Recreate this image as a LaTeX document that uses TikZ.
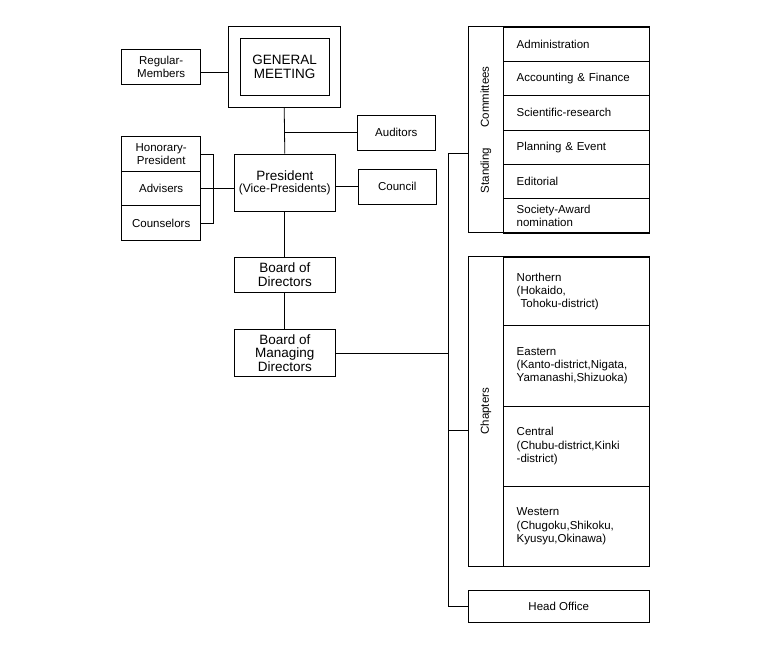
\documentclass[tikz,border=0pt]{standalone}
\usepackage{fontspec}
\setmainfont{Liberation Sans}

\begin{document}
\begin{tikzpicture}[x=1pt, y=-1pt, line width=0.8pt,
  orgbox/.style={draw, rectangle, inner sep=0pt, align=center, font=\fontsize{11.5}{12.5}\selectfont},
  bigbox/.style={orgbox, font=\fontsize{13.5}{13.5}\selectfont},
  rowbox/.style={draw, rectangle, anchor=north west, inner xsep=13pt, inner ysep=0pt, text width=119.7pt, align=left, font=\fontsize{11.5}{13.3}\selectfont},
  sidelabel/.style={rotate=90, font=\fontsize{11.5}{12.5}\selectfont}]
\useasboundingbox (0,0) rectangle (770,650);

% General meeting and members
\node[bigbox, minimum width=111.7, minimum height=81.3] (gmOuter) at (284.2,66.7) {};
\node[bigbox, minimum width=89.3, minimum height=56.7] (gmInner) at (284.7,66.7) {GENERAL\\MEETING};
\node[orgbox, minimum width=79, minimum height=34.7] (regular) at (161.2,66.7) {Regular-\\Members};
\draw ([yshift=-5.6]regular.east) -- ([yshift=-5.6]regular.east -| gmOuter.west);

% President, auditors, council
\node[orgbox, minimum width=101, minimum height=57.3, font=\fontsize{12}{12}\selectfont] (president) at (284.8,182.7) {{\fontsize{13.5}{12}\selectfont President}\\(Vice-Presidents)};
\node[orgbox, minimum width=78, minimum height=34.3] (auditors) at (396.3,132.8) {Auditors};
\node[orgbox, minimum width=78, minimum height=34.7] (council) at (397.3,186.7) {Council};
\draw (gmOuter.south) -- (president.north);
\draw (auditors.west) -- (auditors.west -| gmOuter.south);
\draw (council.west) -- (council.west -| president.east);

% Honorary group on the left
\node[orgbox, minimum width=79, minimum height=35] (honorary) at (161.2,154.2) {Honorary-\\President};
\node[orgbox, minimum width=79, minimum height=34] (advisers) at (161.2,188.7) {Advisers};
\node[orgbox, minimum width=79, minimum height=34.6] (counselors) at (161.2,223) {Counselors};
\draw (honorary.east) -- ++(12,0) |- (counselors.east);
\draw (advisers.east) -- (advisers.east -| president.west);

% Boards
\node[bigbox, minimum width=101, minimum height=35] (directors) at (284.8,274.8) {Board of\\Directors};
\node[bigbox, minimum width=101, minimum height=47.4] (managing) at (284.8,353) {Board of\\Managing\\Directors};
\draw (president.south) -- (directors.north);
\draw (directors.south) -- (managing.north);

% Standing committees
\node[draw, minimum width=180.7, minimum height=206, inner sep=0pt] (standing) at (558.7,129.7) {};
\node[sidelabel] (standingLbl) at (485.8,129.7) {Standing\hspace{20pt}Committees};
\foreach \i/\tp/\rh/\txt in {1/26.7/34.3/Administration, 2/61/34.3/Accounting \& Finance,
    3/95.3/34.3/Scientific-research, 4/129.6/34.3/Planning \& Event,
    5/163.9/34.3/Editorial, 6/198.2/34.5/{Society-Award\\nomination}}
  \node[rowbox, minimum height=\rh] (com\i) at (503.3,\tp) {\txt};

% Chapters
\node[draw, minimum width=180.7, minimum height=309.3, inner sep=0pt] (chapters) at (558.7,411.35) {};
\node[sidelabel] (chaptersLbl) at (485.8,411.3) {Chapters};
\foreach \i/\tp/\rh/\txt in {1/256.7/68.6/{Northern\\(Hokaido,\\\hspace*{4pt}Tohoku-district)},
    2/325.3/80.4/{Eastern\\(Kanto-district,Nigata,\\Yamanashi,Shizuoka)},
    3/405.7/80/{Central\\(Chubu-district,Kinki\\-district)},
    4/485.7/80.3/{Western\\(Chugoku,Shikoku,\\Kyusyu,Okinawa)}}
  \node[rowbox, minimum height=\rh] (chap\i) at (503.3,\tp) {\txt};

% Head office
\node[orgbox, minimum width=180.7, minimum height=32.7] (headOffice) at (558.7,606.3) {Head Office};

% Spine on the right
\coordinate (spineTop) at (448.3,153.3);
\coordinate (chapTick) at (448.3,430);
\draw (spineTop) -- (spineTop -| standing.west);
\draw (spineTop) |- (headOffice.west);
\draw (chapTick) -- (chapTick -| chapters.west);
\draw (managing.east) -- (managing.east -| spineTop);
\end{tikzpicture}
\end{document}
